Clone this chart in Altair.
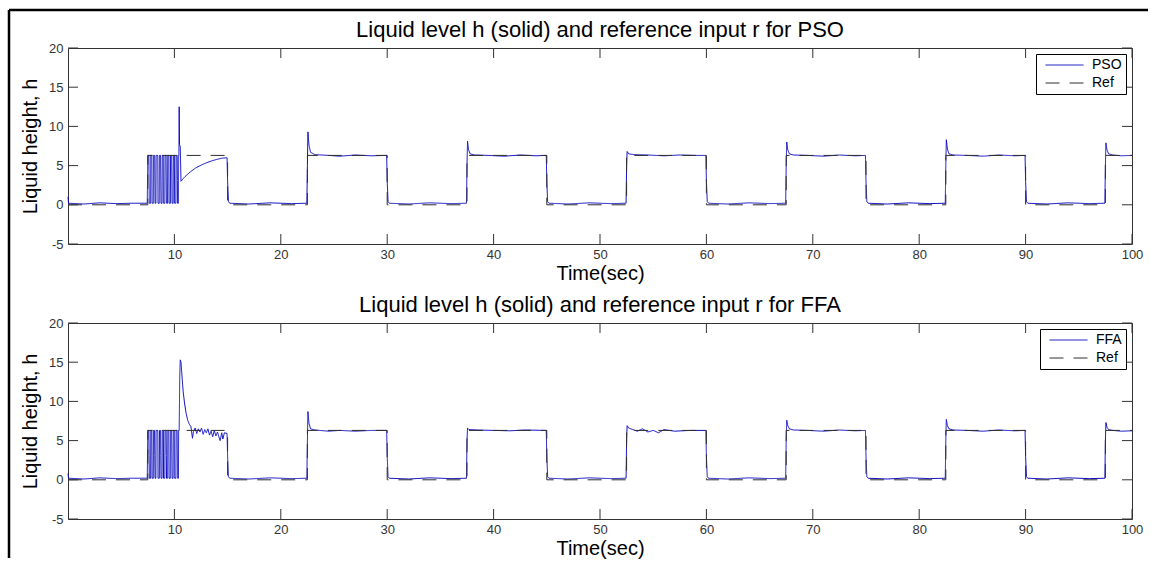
import altair as alt
import pandas as pd

# ---------------------------------------------------------------- data
x_ticks = [10, 20, 30, 40, 50, 60, 70, 80, 90, 100]
y_ticks = [-5, 0, 5, 10, 15, 20]

# reference input r(t): square wave, (time, level) corner points
ref_points = [
    (0, 0), (7.5, 0), (7.5, 6.3), (15, 6.3), (15, 0), (22.5, 0), (22.5, 6.3),
    (30, 6.3), (30, 0), (37.5, 0), (37.5, 6.3), (45, 6.3), (45, 0), (52.5, 0),
    (52.5, 6.3), (60, 6.3), (60, 0), (67.5, 0), (67.5, 6.3), (75, 6.3), (75, 0),
    (82.5, 0), (82.5, 6.3), (90, 6.3), (90, 0), (97.5, 0), (97.5, 6.3), (100, 6.3),
]

# switching chatter during the first step (identical in both runs)
chatter = [
    (7.45, 0.2), (7.50, 6.3), (7.60, 6.3), (7.62, 3.1), (7.64, 0.2), (7.76, 0.2),
    (7.78, 6.3), (7.88, 6.3), (7.90, 0.2), (8.02, 0.2), (8.04, 6.3), (8.14, 6.3),
    (8.16, 3.1), (8.18, 0.2), (8.26, 0.2), (8.28, 6.3), (8.44, 6.3), (8.46, 0.2),
    (8.58, 0.2), (8.60, 6.3), (8.70, 6.3), (8.72, 3.1), (8.74, 0.2), (8.84, 0.2),
    (8.86, 6.3), (8.96, 6.3), (8.98, 0.2), (9.10, 0.2), (9.12, 6.3), (9.22, 6.3),
    (9.24, 3.1), (9.26, 0.2), (9.36, 0.2), (9.38, 6.3), (9.48, 6.3), (9.50, 0.2),
    (9.62, 0.2), (9.64, 6.3), (9.74, 6.3), (9.76, 3.1), (9.78, 0.2), (9.88, 0.2),
    (9.90, 6.3), (10.00, 6.3), (10.02, 0.2), (10.14, 0.2), (10.16, 6.3), (10.26, 6.3),
    (10.28, 3.1), (10.30, 0.2), (10.38, 0.2), (10.40, 6.3), (10.42, 6.3),
]

# PSO-tuned controller: liquid level h(t)
pso_start = [(0.0, 1.0), (0.05, 0.2), (1.5, 0.1), (3.0, 0.25), (4.5, 0.15), (6.0, 0.2)]
pso_rest = [
    (10.45, 12.5), (10.48, 7.7), (10.55, 7.4), (10.62, 3.0), (10.8, 3.3), (11.0, 3.6),
    (11.5, 4.2), (12.0, 4.7), (12.5, 5.05), (13.0, 5.35), (13.5, 5.6), (14.0, 5.8),
    (14.5, 5.95), (14.95, 6.0), (15.0, 3.0), (15.08, 0.4), (15.2, 0.2), (17.0, 0.1),
    (19.0, 0.25), (21.0, 0.15), (22.45, 0.2),
    (22.5, 5.0), (22.55, 9.3), (22.65, 7.6), (22.8, 6.7), (23.2, 6.4), (24.5, 6.3),
    (25.5, 6.2), (27.0, 6.35), (28.5, 6.25), (29.95, 6.3), (30.0, 3.0), (30.08, 0.4),
    (30.2, 0.2), (32.0, 0.1), (34.0, 0.25), (36.0, 0.15), (37.45, 0.2),
    (37.5, 5.0), (37.55, 8.1), (37.65, 7.0), (37.8, 6.5), (38.2, 6.35), (39.5, 6.3),
    (41.0, 6.2), (42.5, 6.35), (44.0, 6.25), (44.95, 6.3), (45.0, 3.0), (45.08, 0.4),
    (45.2, 0.2), (47.0, 0.1), (49.0, 0.25), (51.0, 0.15), (52.45, 0.2),
    (52.5, 5.0), (52.55, 6.8), (52.7, 6.5), (53.2, 6.4), (54.5, 6.35), (56.0, 6.25),
    (57.5, 6.35), (59.0, 6.3), (59.95, 6.3), (60.0, 3.0), (60.08, 0.4), (60.2, 0.2),
    (62.0, 0.1), (64.0, 0.25), (66.0, 0.15), (67.45, 0.2),
    (67.5, 5.0), (67.55, 8.0), (67.65, 7.0), (67.8, 6.5), (68.2, 6.35), (69.5, 6.3),
    (71.0, 6.2), (72.5, 6.35), (74.0, 6.25), (74.95, 6.3), (75.0, 3.0), (75.08, 0.4),
    (75.2, 0.2), (77.0, 0.1), (79.0, 0.25), (81.0, 0.15), (82.45, 0.2),
    (82.5, 5.0), (82.55, 8.3), (82.65, 7.1), (82.8, 6.5), (83.2, 6.35), (84.5, 6.3),
    (86.0, 6.2), (87.5, 6.35), (89.0, 6.25), (89.95, 6.3), (90.0, 3.0), (90.08, 0.4),
    (90.2, 0.2), (92.0, 0.1), (94.0, 0.25), (96.0, 0.15), (97.45, 0.2),
    (97.5, 5.0), (97.55, 7.9), (97.65, 7.0), (97.8, 6.5), (98.2, 6.35), (99.0, 6.25),
    (100.0, 6.3),
]

# FFA-tuned controller: liquid level h(t)
ffa_start = [(0.0, 0.8), (0.05, 0.2), (1.5, 0.1), (3.0, 0.25), (4.5, 0.15), (6.0, 0.2)]
ffa_rest = [
    (10.45, 6.3), (10.5, 13.0), (10.55, 15.3), (10.62, 15.0), (10.7, 13.5), (10.82, 11.3),
    (10.95, 9.8), (11.1, 8.5), (11.25, 7.6), (11.4, 7.1), (11.55, 6.8), (11.7, 5.3),
    (11.8, 6.2), (11.95, 6.6), (12.1, 5.9), (12.25, 6.5), (12.4, 6.1), (12.55, 6.6),
    (12.7, 5.8), (12.85, 6.4), (13.0, 6.0), (13.15, 6.5), (13.3, 5.7), (13.45, 6.2),
    (13.6, 5.5), (13.75, 6.3), (13.9, 5.6), (14.05, 6.1), (14.2, 5.4), (14.3, 5.0),
    (14.45, 6.0), (14.55, 5.2), (14.7, 6.0), (14.95, 5.9), (15.0, 3.0), (15.08, 0.4),
    (15.2, 0.2), (17.0, 0.1), (19.0, 0.25), (21.0, 0.15), (22.45, 0.2),
    (22.5, 5.0), (22.55, 8.7), (22.65, 7.2), (22.8, 6.5), (23.2, 6.35), (24.5, 6.2),
    (25.5, 6.3), (27.0, 6.2), (28.5, 6.3), (29.95, 6.3), (30.0, 3.0), (30.08, 0.4),
    (30.2, 0.2), (32.0, 0.1), (34.0, 0.25), (36.0, 0.15), (37.45, 0.2),
    (37.5, 5.0), (37.55, 6.6), (37.7, 6.4), (38.5, 6.35), (40.0, 6.3), (41.5, 6.25),
    (43.0, 6.35), (44.95, 6.3), (45.0, 3.0), (45.08, 0.4), (45.2, 0.2), (47.0, 0.1),
    (49.0, 0.25), (51.0, 0.15), (52.45, 0.2),
    (52.5, 5.0), (52.55, 6.9), (52.7, 6.6), (53.5, 6.2), (54.0, 6.5), (54.5, 6.1),
    (55.0, 6.3), (55.5, 6.0), (56.0, 6.4), (57.0, 6.2), (58.5, 6.3), (59.95, 6.3),
    (60.0, 3.0), (60.08, 0.4), (60.2, 0.2), (62.0, 0.1), (64.0, 0.25), (66.0, 0.15),
    (67.45, 0.2),
    (67.5, 5.0), (67.55, 7.6), (67.65, 6.9), (67.8, 6.5), (68.2, 6.35), (69.5, 6.3),
    (71.0, 6.2), (72.5, 6.35), (74.0, 6.25), (74.95, 6.3), (75.0, 3.0), (75.08, 0.4),
    (75.2, 0.2), (77.0, 0.1), (79.0, 0.25), (81.0, 0.15), (82.45, 0.2),
    (82.5, 5.0), (82.55, 7.7), (82.65, 6.9), (82.8, 6.5), (83.2, 6.35), (84.5, 6.3),
    (86.0, 6.2), (87.5, 6.35), (89.0, 6.25), (89.95, 6.3), (90.0, 3.0), (90.08, 0.4),
    (90.2, 0.2), (92.0, 0.1), (94.0, 0.25), (96.0, 0.15), (97.45, 0.2),
    (97.5, 5.0), (97.55, 7.3), (97.65, 6.7), (97.8, 6.4), (98.2, 6.3), (99.0, 6.2),
    (100.0, 6.25),
]

# ---------------------------------------------------------------- style
BLUE = "#0b0bc0"
REF_COLOR = "#2e2e2e"
AXIS_COLOR = "#333333"
FONT = "Liberation Sans"
W, H = 1064, 196
TICK = 10


def frame_of(points, name):
    return pd.DataFrame({
        "t": [p[0] for p in points],
        "h": [p[1] for p in points],
        "series": name,
        "i": list(range(len(points))),
    })


def panel(name, points, title, outer_frame=False):
    x_scale = alt.Scale(domain=[0, 100], nice=False, zero=False)
    y_scale = alt.Scale(domain=[-5, 20], nice=False, zero=False)
    x_axis = alt.Axis(values=x_ticks, ticks=False, tickSize=0, domain=False, grid=False,
                      labelFlush=False, labelPadding=4, title="Time(sec)", titlePadding=2)
    y_axis = alt.Axis(values=y_ticks, ticks=False, tickSize=0, domain=False, grid=False,
                      labelFlush=False, labelPadding=5, title="Liquid height, h",
                      titlePadding=8, labelExpr="'' + datum.value")
    X = alt.X("t:Q", scale=x_scale, axis=x_axis)
    Y = alt.Y("h:Q", scale=y_scale, axis=y_axis)

    legend = alt.Legend(title=None, orient="top-right", offset=6, strokeColor="black",
                        fillColor="white", padding=4, symbolType="stroke",
                        symbolSize=1444, symbolStrokeWidth=1, symbolOffset=5,
                        labelFont=FONT, labelFontSize=14, labelColor="black",
                        rowPadding=4, labelOffset=8, cornerRadius=0, clipHeight=14)
    color = alt.Color("series:N", legend=legend,
                      scale=alt.Scale(domain=[name, "Ref"], range=[BLUE, REF_COLOR]))
    dash = alt.StrokeDash("series:N", legend=legend,
                          scale=alt.Scale(domain=[name, "Ref"], range=[[1, 0], [14, 10]]))

    main = alt.Chart(frame_of(points, name)).mark_line(strokeWidth=1).encode(
        x=X, y=Y, color=color, strokeDash=dash, order="i:Q")
    ref = alt.Chart(frame_of(ref_points, "Ref")).mark_line(strokeWidth=1).encode(
        x=X, y=Y, color=color, strokeDash=dash, order="i:Q")

    # inward tick marks on all four sides of the box
    xt = pd.DataFrame({"t": x_ticks})
    yt = pd.DataFrame({"h": y_ticks})
    tick_style = dict(color=AXIS_COLOR, strokeWidth=1)
    top_ticks = alt.Chart(xt).mark_rule(**tick_style).encode(
        x=X, y=alt.value(0), y2=alt.value(TICK))
    bottom_ticks = alt.Chart(xt).mark_rule(**tick_style).encode(
        x=X, y=alt.value(H), y2=alt.value(H - TICK))
    left_ticks = alt.Chart(yt).mark_rule(**tick_style).encode(
        y=Y, x=alt.value(0), x2=alt.value(TICK))
    right_ticks = alt.Chart(yt).mark_rule(**tick_style).encode(
        y=Y, x=alt.value(W), x2=alt.value(W - TICK))

    heading = alt.Chart(pd.DataFrame({"label": [title]})).mark_text(
        font=FONT, fontSize=22, color="black", align="center", baseline="alphabetic"
    ).encode(text="label:N", x=alt.value(W / 2), y=alt.value(-11))

    layers = [main, ref, top_ticks, bottom_ticks, left_ticks, right_ticks, heading]

    if outer_frame:
        one = pd.DataFrame({"k": [0]})
        border = dict(color="black", strokeWidth=2.5)
        layers.append(alt.Chart(one).mark_rule(**border).encode(
            x=alt.value(-59), x2=alt.value(1080), y=alt.value(-38)))
        layers.append(alt.Chart(one).mark_rule(**border).encode(
            x=alt.value(-59), y=alt.value(-38), y2=alt.value(510)))

    return alt.layer(*layers).properties(width=W, height=H)


top = panel("PSO", pso_start + chatter + pso_rest,
            "Liquid level h (solid) and reference input r for PSO", outer_frame=True)
bottom = panel("FFA", ffa_start + chatter + ffa_rest,
               "Liquid level h (solid) and reference input r for FFA")

chart = (
    alt.vconcat(top, bottom, spacing=79, bounds="flush")
    .resolve_scale(color="independent", strokeDash="independent")
    .properties(padding={"left": 7, "top": 8, "right": 0, "bottom": 0}, background="white")
    .configure_view(stroke=AXIS_COLOR, strokeWidth=1)
    .configure_axis(labelFont=FONT, titleFont=FONT, labelFontSize=13, labelColor=AXIS_COLOR,
                    titleFontSize=20, titleFontWeight="normal", titleColor="black")
    .configure_axisX(titleFontSize=20)
)

chart.save("out.html", embed_options={"renderer": "svg", "actions": False})
